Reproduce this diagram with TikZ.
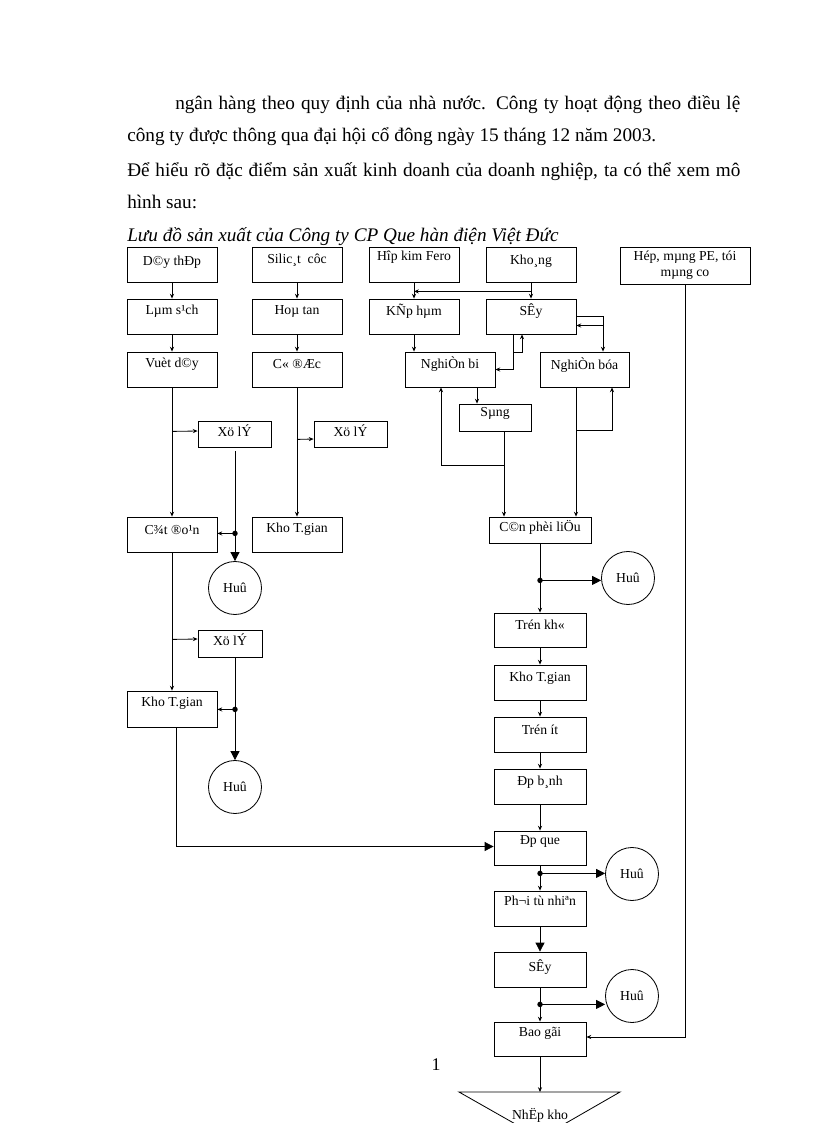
\documentclass[tikz,border=0pt]{standalone}
\usepackage{fontspec}
\setmainfont{Liberation Serif}
\usetikzlibrary{arrows.meta,calc}
\newcommand\bx[7]{%
  \node[box,minimum width={(#4-#2)*0.729pt},minimum height={(#5-#3)*0.729pt}] (#1) at ({(#2+#4)/2},{(#3+#5)/2}) {};
  \node[lbl] (#1-t) at ({(#2+#4)/2},{#3+#7}) {#6};}
\begin{document}
\begin{tikzpicture}[x=0.729pt,y=-0.729pt,
 box/.style={draw,line width=0.6pt,inner sep=0pt},
 lbl/.style={font=\fontsize{10}{12}\selectfont,inner sep=0pt},
 body/.style={font=\fontsize{14}{16}\selectfont,anchor=base west,inner sep=0pt},
 ln/.style={line width=0.6pt},
 sa/.style={ln,-{Stealth[length=3.5pt,width=3pt]}},
 ba/.style={ln,-{Triangle[length=6.5pt,width=6.5pt]}},
 dot/.style={circle,fill,inner sep=0pt,minimum size=4pt},
 huy/.style={circle,draw,line width=0.6pt,minimum size={53*0.729pt},inner sep=0pt,font=\fontsize{10}{12}\selectfont}]
\useasboundingbox (0,0) rectangle (816,1123);
\fill[white] (0,0) rectangle (816,1123);
\clip (0,0) rectangle (816,1123);
% header text
\node[body] (p1) at (175,110) {\makebox[411.9pt][s]{ngân hàng theo quy định của nhà nước. Công ty hoạt động theo điều lệ}};
\node[body] (p2) at (127,142) {công ty được thông qua đại hội cổ đông ngày 15 tháng 12 năm 2003.};
\node[body] (p3) at (127,177) {\makebox[446.9pt][s]{Để hiểu rõ đặc điểm sản xuất kinh doanh của doanh nghiệp, ta có thể xem mô}};
\node[body] (p4) at (127,209) {hình sau:};
\node[body,font=\fontsize{14}{16}\selectfont\itshape] (cap) at (127,241) {Lưu đồ sản xuất của Công ty CP Que hàn điện Việt Đức};
% row 1
\bx{dt}{127}{247}{217}{282}{D©y thÐp}{15}
\bx{sc}{252}{247}{342}{282}{Silic¸t\ \ côc}{13}
\bx{fe}{369}{247}{459}{282}{Hîp kim Fero}{10}
\bx{kh}{486}{247}{576}{282}{Kho¸ng}{14}
\node[box,minimum width={130*0.729pt},minimum height={37*0.729pt}] (hep) at (685,265.5) {};
\node[lbl,align=center] (hep-t) at (685,265) {Hép, mµng PE, tói\\mµng co};
% row 2
\bx{ls}{127}{299}{217}{334}{Lµm s¹ch}{12}
\bx{ht}{252}{299}{342}{334}{Hoµ tan}{12}
\bx{kp}{369}{299}{459}{334}{KÑp hµm}{12}
\bx{sy}{486}{299}{576}{334}{SÊy}{12}
% row 3
\bx{vd}{127}{352}{217}{387}{Vuèt d©y}{12}
\bx{cd}{252}{352}{342}{387}{C« ®Æc}{12}
\bx{nb}{405}{352}{495}{387}{NghiÒn bi}{12}
\bx{nbu}{540}{352}{629}{387}{NghiÒn bóa}{13}
\bx{sg}{459}{404}{531}{431}{Sµng}{9}
\bx{xl1}{198}{421}{271}{447}{Xö lÝ}{10}
\bx{xl2}{314}{421}{387}{447}{Xö lÝ}{10}
\bx{co}{127}{517}{217}{552}{C¾t ®o¹n}{13}
\bx{kt1}{252}{517}{342}{552}{Kho T.gian}{12}
\bx{cp}{489}{517}{591}{543}{C©n phèi liÖu}{10}
\bx{xl3}{198}{630}{262}{657}{Xö lÝ}{10}
\bx{kt2}{127}{691}{217}{727}{Kho T.gian}{12}
\bx{tk}{494}{613}{586}{647}{Trén kh«}{12}
\bx{kt3}{494}{665}{586}{700}{Kho T.gian}{13}
\bx{tu}{494}{717}{586}{752}{Trén ít}{13}
\bx{eb}{494}{769}{586}{804}{Ðp b¸nh}{13}
\bx{eq}{494}{831}{586}{865}{Ðp que}{10}
\bx{pt}{494}{891}{586}{926}{Ph¬i tù nhiªn}{10}
\bx{sy2}{494}{952}{586}{987}{SÊy}{15}
\bx{bg}{494}{1022}{586}{1056}{Bao gãi}{11}
% circles
\node[huy] (h1) at (235,588) {Huû};
\node[huy] (h2) at (235,787) {Huû};
\node[huy] (h3) at (628,578) {Huû};
\node[huy] (h4) at (632,874) {Huû};
\node[huy] (h5) at (632,996) {Huû};
% triangle
\coordinate (tri) at (540,1092);
\draw[ln] (459,1092) -- (620,1092) -- (540,1138) -- cycle;
\node[lbl] (tri-t) at (540,1115) {NhËp kho};
\node[body,font=\fontsize{13}{15}\selectfont,anchor=center] (pg) at (436,1065) {1};
% connectors left
\draw[sa] (dt.south) -- (ls.north);
\draw[sa] (ls.south) -- (vd.north);
\draw[sa] (vd.south) -- (co.north);
\draw[sa] ($(vd.south)+(0,44)$) -- ($(xl1.west)+(0,-3)$);
\coordinate (d1) at ($(xl1.south)+(0.5,86)$);
\draw[ba] ($(xl1.south)+(0.5,4)$) -- (h1.north);
\draw[sa] (d1) -- (d1 -| co.east);
\node[dot] at (d1) {};
\draw[sa] (co.south) -- (kt2.north);
\draw[sa] ($(co.south)+(0,87)$) -- ($(xl3.west)+(0,-4.5)$);
\coordinate (d2) at ($(xl3.south)+(5,52)$);
\draw[ba] ($(xl3.south)+(5,0)$) -- (h2.north);
\draw[sa] (d2) -- (d2 -| kt2.east);
\node[dot] at (d2) {};
\draw[ba] ($(kt2.south)+(4,0)$) |- ($(eq.west)+(0,-1.5)$);
% middle
\draw[sa] (sc.south) -- (ht.north);
\draw[sa] (ht.south) -- (cd.north);
\draw[sa] (cd.south) -- (kt1.north);
\draw[sa] ($(cd.south)+(0,52)$) -- ($(xl2.west)+(0,5)$);
% right group
\draw[sa] (fe.south) -- (kp.north);
\draw[sa] (kh.south) -- (sy.north);
\draw[sa] ($(kh.south)+(0,9)$) -- ($(fe.south)+(0,9)$);
\draw[sa] (kp.south) -- (kp.south |- nb.north);
\draw[sa] ($(sy.south)+(-18,0)$) |- (nb.east);
\draw[sa] ($(sy.south)+(-18,18)$) -| ($(sy.south)+(-9,0)$);
\draw[sa] (sy.east) -| ($(nbu.north)+(18.5,0)$);
\draw[sa] ($(sy.east)+(27,9)$) -- ($(sy.east)+(0,9)$);
\draw[sa] ($(nb.south)+(27,0)$) -- ($(sg.north)+(-18,0)$);
\draw[sa] ($(sg.south)+(9,0)$) -- ($(cp.north)+(-36,0)$);
\draw[sa] ($(sg.south)+(9,34)$) -| ($(nb.south)+(-9,0)$);
\draw[sa] ($(nbu.south)+(-8.5,0)$) -- ($(cp.north)+(36,0)$);
\draw[sa] ($(nbu.south)+(-8.5,43)$) -| ($(nbu.south)+(27.5,0)$);
% main chain
\coordinate (j1) at ($(cp.south)+(0,37)$);
\draw[ln] (cp.south) -- (j1);
\draw[sa] (j1) -- (tk.north);
\draw[ba] (j1) -- (j1 -| h3.west);
\node[dot] at (j1) {};
\draw[sa] (tk.south) -- (kt3.north);
\draw[sa] (kt3.south) -- (tu.north);
\draw[sa] (tu.south) -- (eb.north);
\draw[sa] (eb.south) -- (eq.north);
\coordinate (j2) at ($(eq.south)+(0,8)$);
\draw[sa] (eq.south) -- (pt.north);
\draw[ba] (j2) -- (j2 -| h4.west);
\node[dot] at (j2) {};
\draw[ba] (pt.south) -- (sy2.north);
\coordinate (j3) at ($(sy2.south)+(0,17)$);
\draw[sa] (sy2.south) -- (bg.north);
\draw[ba] (j3) -- (j3 -| h5.west);
\node[dot] at (j3) {};
\draw[sa] (hep.south) |- ($(bg.east)+(0,-2)$);
\draw[sa] (bg.south) -- (tri);
\end{tikzpicture}
\end{document}
